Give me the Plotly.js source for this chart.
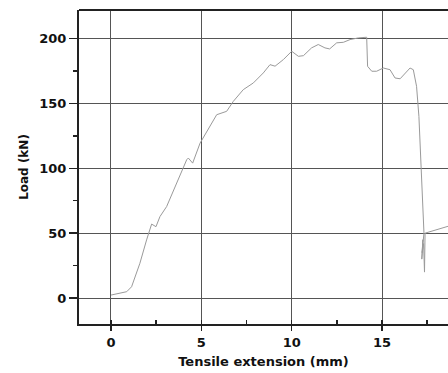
<!DOCTYPE html>
<html><head><meta charset="utf-8">
<script src="https://cdn.plot.ly/plotly-3.0.1.min.js"></script>
<style>html,body{margin:0;padding:0;background:#fff;}#chart{width:448px;height:373px;}</style>
</head><body><div id="chart"></div>
<script>
const extension = [0.0, 0.4, 0.87, 1.14, 1.6, 1.97, 2.25, 2.49, 2.71, 3.08, 3.63, 4.19, 4.28, 4.52, 4.93, 5.48, 5.85, 6.4, 6.77, 7.32, 7.88, 8.43, 8.8, 9.08, 9.54, 10.0, 10.37, 10.65, 11.1, 11.47, 11.84, 12.1, 12.49, 12.86, 13.23, 13.69, 14.06, 14.15, 14.2, 14.43, 14.7, 15.07, 15.44, 15.72, 16.0, 16.27, 16.55, 16.73, 16.91, 17.04, 17.13, 17.2, 17.28, 17.32, 17.25, 17.2, 17.26, 17.22, 17.3, 17.35, 17.38, 17.5, 18.0, 18.7];
const load = [2.3, 3.5, 4.9, 8.7, 26.8, 44.8, 57.0, 55.0, 62.8, 70.5, 88.6, 106.6, 107.9, 104.0, 119.4, 132.3, 141.3, 143.9, 151.6, 160.6, 165.8, 173.5, 179.9, 178.7, 183.8, 190.2, 186.3, 186.8, 192.8, 195.4, 192.8, 192.0, 196.7, 197.1, 199.2, 200.5, 201.3, 201.0, 178.6, 174.8, 174.8, 177.3, 176.0, 169.6, 169.0, 173.5, 177.3, 176.0, 163.2, 140.0, 114.3, 86.0, 60.2, 50.0, 40.0, 30.0, 45.0, 35.0, 42.0, 20.0, 50.0, 50.5, 52.5, 55.5];
const xTicks = [0, 5, 10, 15];
const yTicks = [0, 50, 100, 150, 200];

const data = [{
  x: extension, y: load, type: 'scatter', mode: 'lines',
  line: {color: '#9a9a9a', width: 1}, hoverinfo: 'skip'
}];
const fam = 'DejaVu Sans, Verdana, sans-serif';
const tickFont = {family: fam, size: 13, color: '#111', weight: 'bold'};
const layout = {
  width: 448, height: 373,
  margin: {l: 79, r: 0, t: 10, b: 49},
  paper_bgcolor: '#fff', plot_bgcolor: '#fff',
  showlegend: false,
  xaxis: {
    range: [-1.77, 18.65], tickvals: xTicks, ticktext: xTicks.map(String),
    showgrid: true, gridcolor: '#555', gridwidth: 1, zeroline: false,
    showline: true, linecolor: '#222', linewidth: 2,
    ticks: 'outside', ticklen: 5, tickwidth: 1.5, tickcolor: '#222',
    minor: {dtick: 2.5, tick0: 0, ticks: 'inside', ticklen: 4, tickcolor: '#222', showgrid: false},
    tickfont: tickFont,
    title: {text: 'Tensile extension (mm)', font: {family: fam, size: 13, color: '#111', weight: 'bold'}, standoff: 8}
  },
  yaxis: {
    range: [-20, 222], tickvals: yTicks, ticktext: yTicks.map(String),
    showgrid: true, gridcolor: '#555', gridwidth: 1, zeroline: false,
    showline: true, linecolor: '#222', linewidth: 2,
    ticks: 'outside', ticklen: 8, tickwidth: 1.5, tickcolor: '#222',
    minor: {dtick: 25, tick0: 0, ticks: 'outside', ticklen: 4, tickcolor: '#222', showgrid: false},
    tickfont: tickFont,
    title: {text: 'Load (kN)', font: {family: fam, size: 12, color: '#111', weight: 'bold'}, standoff: 8}
  },
  shapes: [{type: 'line', xref: 'paper', yref: 'paper', x0: 0, x1: 1, y0: 1, y1: 1, line: {color: '#222', width: 2}}]
};
Plotly.newPlot('chart', data, layout, {displayModeBar: false, staticPlot: true});
</script></body></html>
